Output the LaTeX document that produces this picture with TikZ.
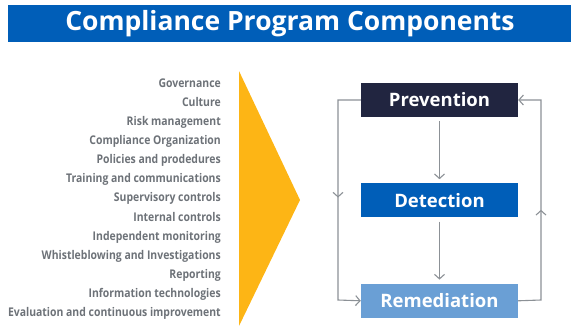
\documentclass[tikz,border=0pt]{standalone}
\usepackage{fontspec}
\setmainfont{Open Sans}
\newfontfamily\condfont[FakeStretch=0.87]{Open Sans}
\usepackage{xcolor}
\usetikzlibrary{arrows.meta,positioning,decorations.markings}
\definecolor{bannerblue}{HTML}{005EB8}
\definecolor{prevcol}{HTML}{212540}
\definecolor{detcol}{HTML}{005EB8}
\definecolor{remcol}{HTML}{6A9FD5}
\definecolor{wedgecol}{HTML}{FDB515}
\definecolor{itemgray}{HTML}{6D7278}
\definecolor{linegray}{HTML}{8C9196}

\begin{document}
\begin{tikzpicture}[x=1pt,y=-1pt,
  item/.style={anchor=base east,inner sep=0pt,text=itemgray,font=\condfont\bfseries\fontsize{12}{14}\selectfont},
  phase/.style={minimum width=157pt,minimum height=34pt,inner sep=0pt,text=white,font=\bfseries\fontsize{18.5}{22}\selectfont},
  flow/.style={draw=linegray,line width=1.1pt,-{Straight Barb[length=4.5pt,width=10pt]}},
  midarrow/.style={postaction={decorate,decoration={markings,mark=at position #1 with {\arrow{Straight Barb[length=4.5pt,width=10pt]}}}}}]
\useasboundingbox (0,0) rectangle (571,325);
% title
\fill[bannerblue] (8,5) rectangle (571,42);
\node[text=white,font=\bfseries\fontsize{26.5}{31}\selectfont] (title) at (290,23.5) {Compliance Program Components};
% list of components
\fill[wedgecol] (239,71) -- (300,200) -- (239,326) -- cycle;
\foreach \t [count=\i] in {Governance,Culture,Risk management,Compliance Organization,
  Policies and prodedures,Training and communications,Supervisory controls,Internal controls,
  Independent monitoring,Whistleblowing and Investigations,Reporting,Information technologies,
  Evaluation and continuous improvement}
  \node[item] (c\i) at (221,{87.5+19.08*(\i-1)}) {\t};
% the cycle
\node[phase,fill=prevcol] (prev) at (439.5,100) {Prevention};
\node[phase,fill=detcol,below=66pt of prev] (det) {Detection};
\node[phase,fill=remcol,below=66pt of det] (rem) {Remediation};
\coordinate (lt) at (338,100);
\coordinate (lb) at (338,300);
\coordinate (rt) at (541,100);
\coordinate (rb) at (541,300);
\draw[flow,shorten <=4pt,shorten >=4pt] (prev) -- (det);
\draw[flow,shorten <=4pt,shorten >=4pt] (det) -- (rem);
\draw[flow,midarrow=0.49] (prev.west) -- (lt) -- (lb) -- (rem.west);
\draw[flow,midarrow=0.46] (rem.east) -- (rb) -- (rt) -- (prev.east);
\end{tikzpicture}
\end{document}
